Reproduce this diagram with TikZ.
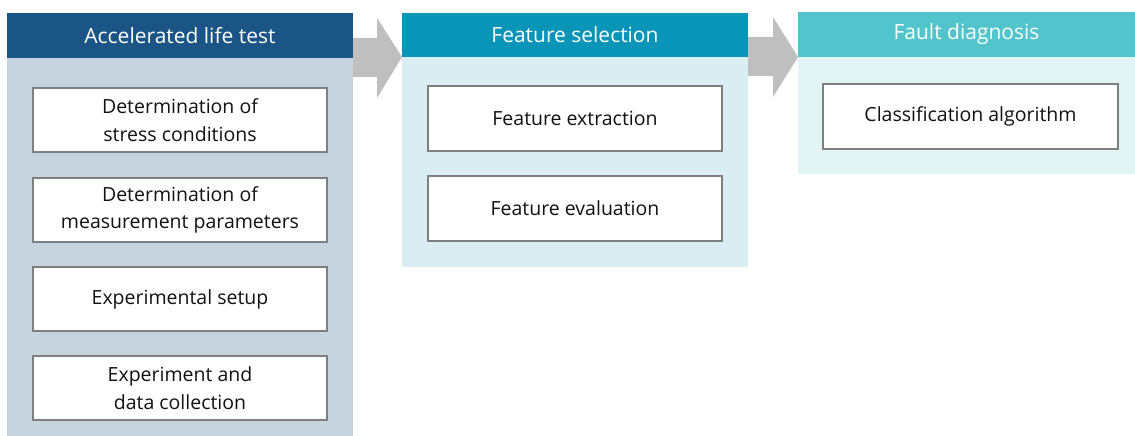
\documentclass[tikz,border=0pt]{standalone}
\usepackage{fontspec}
\setmainfont{Open Sans}
\usetikzlibrary{calc}
\definecolor{hdA}{HTML}{1B5585}
\definecolor{bdA}{HTML}{C5D3DF}
\definecolor{hdB}{HTML}{0895B7}
\definecolor{bdB}{HTML}{DAEDF3}
\definecolor{hdC}{HTML}{52C4CB}
\definecolor{bdC}{HTML}{E3F4F5}
\definecolor{arr}{HTML}{BFBFBF}
\definecolor{boxline}{HTML}{7F7F7F}
\definecolor{txt}{HTML}{111111}
\begin{document}
\begin{tikzpicture}[x=1pt,y=-1pt,
  every node/.style={inner sep=0pt, outer sep=0pt},
  panelbody/.style={anchor=north west, minimum width=346pt},
  header/.style={anchor=north west, minimum width=346pt, text=white, font=\fontsize{21}{24}\selectfont},
  stepbox/.style={anchor=north west, draw=boxline, line width=1.1pt, fill=white, minimum width=294pt, minimum height=64pt, align=center, text=txt, font=\fontsize{19.5}{27.5}\selectfont},
  flowarrow/.style={fill=arr, draw=none}
]
\useasboundingbox (0,0) rectangle (1135,436);
% panel 1
\node[panelbody, fill=bdA, minimum height=423pt] (b1) at (7,13) {};
\node[header, fill=hdA, minimum height=45pt] (h1) at (7,13) {Accelerated life test};
\node[stepbox] (s1) at (33,88) {Determination of\\stress conditions};
\node[stepbox] (s2) at (33,178) {Determination of\\measurement parameters};
\node[stepbox] (s3) at (33,267) {Experimental setup};
\node[stepbox] (s4) at (33,356) {Experiment and\\data collection};
% panel 2
\node[panelbody, fill=bdB, minimum height=254pt] (b2) at (402,13) {};
\node[header, fill=hdB, minimum height=44pt] (h2) at (402,13) {Feature selection};
\node[stepbox, minimum height=65pt] (f1) at (428,86) {Feature extraction};
\node[stepbox, minimum height=65pt] (f2) at (428,176) {Feature evaluation};
% panel 3
\node[panelbody, fill=bdC, minimum height=162pt, minimum width=337pt] (b3) at (798,12) {};
\node[header, fill=hdC, minimum height=45pt, minimum width=337pt] (h3) at (798,12) {Fault diagnosis};
\node[stepbox, minimum width=295pt, minimum height=65pt] (c1) at (823,84) {Classification algorithm};
% arrows
\coordinate (a1) at (h1.south east);
\coordinate (a1t) at (h2.south west);
\fill[flowarrow] ($(a1)+(0,-20)$) -- ($(a1)+(24,-20)$) -- ($(a1)+(24,-40)$) -- (a1t) -- ($(a1)+(24,40)$) -- ($(a1)+(24,19)$) -- ($(a1)+(0,19)$) -- cycle;
\coordinate (a2) at (h2.south east);
\coordinate (a2t) at (h3.south west);
\fill[flowarrow] ($(a2)+(0,-20)$) -- ($(a2)+(25,-20)$) -- ($(a2)+(25,-40)$) -- (a2t) -- ($(a2)+(25,40)$) -- ($(a2)+(25,19)$) -- ($(a2)+(0,19)$) -- cycle;
\end{tikzpicture}
\end{document}
